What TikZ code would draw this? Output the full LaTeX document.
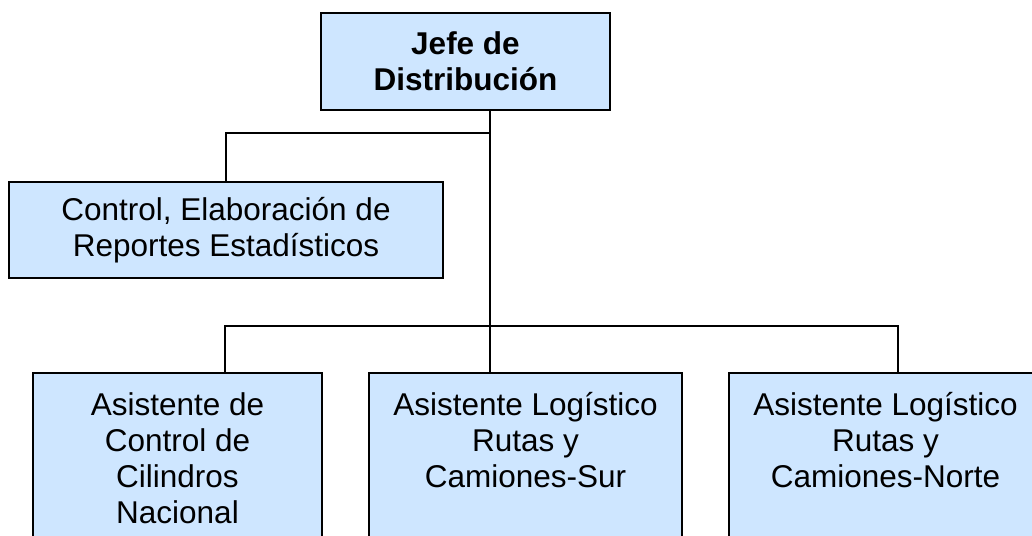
\documentclass[tikz,border=0pt]{standalone}
\usepackage{fontspec}
\setmainfont{Liberation Sans}
\definecolor{boxfill}{RGB}{206,230,255}
\begin{document}
\begin{tikzpicture}[x=1pt,y=-1pt,
  orgbox/.style={draw=black, line width=2.6pt, fill=boxfill, inner sep=0pt, rectangle,
    font=\fontsize{31.5}{36}\selectfont},
  link/.style={draw=black, line width=1.6pt, line cap=rect}]
\useasboundingbox (0,0) rectangle (1032,535);
\clip (0,0) rectangle (1032,535);
\fill[white] (0,0) rectangle (1032,535);

\node[orgbox] (jefe) at (465.5,61.5)
  {\parbox[c][97pt][c]{289pt}{\centering\bfseries Jefe de\\Distribución}};
\node[orgbox] (ctrl) at (226,230)
  {\parbox[c][96pt][c]{434pt}{\centering Control, Elaboración de\\Reportes Estadísticos}};
\node[orgbox] (a1) at (177.5,463)
  {\parbox[c][180pt][t]{289pt}{\centering\rule{0pt}{42pt}Asistente de\\Control de\\Cilindros\\Nacional}};
\node[orgbox] (a2) at (525.5,463)
  {\parbox[c][180pt][t]{313pt}{\centering\rule{0pt}{42pt}Asistente Logístico\\Rutas y\\Camiones-Sur}};
\node[orgbox] (a3) at (885.5,463)
  {\parbox[c][180pt][t]{313pt}{\centering\rule{0pt}{42pt}Asistente Logístico\\Rutas y\\Camiones-Norte}};

\coordinate (jt) at (490,133);
\coordinate (bl) at (225,326);
\coordinate (bm) at (490,326);
\coordinate (br) at (898,326);

\draw[link] (jefe.south -| bm) -- (bm);
\draw[link] (jt) -| (ctrl.north);
\draw[link] (bl) -- (br);
\draw[link] (bl) -- (a1.north -| bl);
\draw[link] (bm) -- (a2.north -| bm);
\draw[link] (br) -- (a3.north -| br);
\end{tikzpicture}
\end{document}
